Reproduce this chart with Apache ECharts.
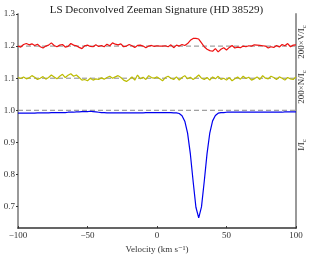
<!DOCTYPE html>
<html><head><meta charset="utf-8">
<script src="https://cdn.jsdelivr.net/npm/echarts@6/dist/echarts.min.js"></script>
<style>html,body{margin:0;padding:0;background:#fff}#c{width:313px;height:259px}</style>
</head><body><div id="c"></div>
<script>
// Velocity grid (km/s)
const velocity = [-100,-98,-96,-94,-92,-90,-88,-86,-84,-82,-80,-78,-76,-74,-72,-70,-68,-66,-64,-62,-60,-58,-56,-54,-52,-50,-48,-46,-44,-42,-40,-38,-36,-34,-32,-30,-28,-26,-24,-22,-20,-18,-16,-14,-12,-10,-8,-6,-4,-2,0,2,4,6,8,10,12,14,16,18,20,22,24,26,28,30,32,34,36,38,40,42,44,46,48,50,52,54,56,58,60,62,64,66,68,70,72,74,76,78,80,82,84,86,88,90,92,94,96,98,100];
// 200*V/Ic (offset to 1.2)
const stokesV = [1.200,1.197,1.205,1.208,1.204,1.207,1.202,1.206,1.198,1.194,1.200,1.203,1.210,1.202,1.198,1.203,1.205,1.197,1.199,1.208,1.203,1.201,1.196,1.192,1.201,1.203,1.199,1.198,1.204,1.199,1.202,1.198,1.206,1.201,1.210,1.206,1.204,1.207,1.198,1.200,1.205,1.201,1.196,1.202,1.203,1.200,1.195,1.200,1.202,1.199,1.201,1.200,1.200,1.201,1.198,1.204,1.195,1.203,1.200,1.205,1.202,1.208,1.218,1.224,1.224,1.222,1.210,1.198,1.190,1.186,1.184,1.192,1.182,1.190,1.195,1.188,1.196,1.202,1.194,1.197,1.195,1.200,1.198,1.201,1.200,1.204,1.203,1.202,1.201,1.200,1.194,1.198,1.196,1.202,1.197,1.205,1.201,1.208,1.198,1.203,1.204];
// 200*N/Ic (offset to 1.1)
const nullN = [1.102,1.099,1.104,1.098,1.101,1.108,1.103,1.096,1.100,1.105,1.097,1.102,1.110,1.104,1.098,1.106,1.112,1.102,1.109,1.114,1.106,1.110,1.102,1.094,1.096,1.092,1.100,1.094,1.098,1.096,1.101,1.097,1.102,1.106,1.100,1.104,1.108,1.102,1.094,1.090,1.096,1.104,1.094,1.110,1.098,1.103,1.096,1.108,1.102,1.100,1.104,1.098,1.092,1.102,1.106,1.100,1.096,1.104,1.094,1.102,1.108,1.098,1.103,1.096,1.102,1.110,1.100,1.096,1.102,1.094,1.104,1.098,1.106,1.096,1.100,1.094,1.102,1.092,1.098,1.104,1.097,1.106,1.099,1.103,1.094,1.098,1.104,1.096,1.108,1.100,1.098,1.106,1.102,1.096,1.104,1.100,1.094,1.102,1.098,1.096,1.104];
// I/Ic
const stokesI = [0.991,0.991,0.991,0.991,0.991,0.991,0.991,0.992,0.992,0.992,0.992,0.992,0.993,0.993,0.993,0.993,0.993,0.993,0.994,0.994,0.994,0.995,0.995,0.996,0.996,0.996,0.997,0.996,0.995,0.994,0.993,0.993,0.992,0.992,0.992,0.992,0.992,0.992,0.992,0.992,0.992,0.992,0.992,0.992,0.992,0.992,0.993,0.993,0.993,0.993,0.993,0.993,0.993,0.993,0.993,0.993,0.992,0.992,0.990,0.983,0.966,0.929,0.864,0.778,0.698,0.665,0.699,0.779,0.865,0.930,0.967,0.984,0.991,0.993,0.993,0.994,0.994,0.994,0.994,0.994,0.994,0.994,0.994,0.994,0.994,0.994,0.994,0.994,0.994,0.994,0.994,0.994,0.994,0.994,0.994,0.994,0.995,0.995,0.995,0.995,0.995];
const refLevels = [1.2, 1.1, 1.0];
const yTicks = [0.7,0.8,0.9,1.0,1.1,1.2,1.3];
const xTicks = [-100,-50,0,50,100];

const serif = '"Liberation Serif", "DejaVu Serif", serif';
const pair = arr => velocity.map((v,i)=>[v,arr[i]]);
const series = [];
refLevels.forEach(l => series.push({type:'line',data:[[-100,l],[100,l]],symbol:'none',silent:true,
  lineStyle:{color:'#888',width:1,type:[5,3]}}));
series.push({type:'line',data:pair(stokesV),symbol:'none',lineStyle:{color:'#ee1111',width:1.2}});
series.push({type:'line',data:pair(nullN),symbol:'none',lineStyle:{color:'#bcbc00',width:1.2}});
series.push({type:'line',data:pair(stokesI),symbol:'none',lineStyle:{color:'#0000ee',width:1.2}});

const chart = echarts.init(document.getElementById('c'), null, {renderer:'canvas'});
chart.setOption({
  animation:false,
  backgroundColor:'#fff',
  title:{text:'LS Deconvolved Zeeman Signature (HD 38529)',left:'center',top:0,
    textStyle:{fontFamily:serif,fontSize:11,fontWeight:'normal',color:'#222'}},
  grid:{left:18,right:17,top:14,bottom:28},
  xAxis:{type:'value',min:-100,max:100,interval:50,
    name:'Velocity (km s\u207B\u00B9)',nameLocation:'middle',nameGap:14,
    nameTextStyle:{fontFamily:serif,fontSize:9,color:'#333'},
    axisLine:{onZero:false,lineStyle:{color:'#333',width:1.5}},
    axisTick:{show:true,inside:true,length:2,lineStyle:{color:'#333'}},
    axisLabel:{fontFamily:serif,fontSize:9,color:'#333',margin:3,
      formatter:v=>String(v).replace('-','\u2212')},
    splitLine:{show:false}},
  yAxis:[{type:'value',min:0.633,max:1.3,
    axisLine:{show:true,onZero:false,lineStyle:{color:'#999',width:2}},
    axisTick:{show:true,length:2,customValues:yTicks,lineStyle:{color:'#333'}},
    axisLabel:{fontFamily:serif,fontSize:9,color:'#333',margin:3,customValues:yTicks,
      formatter:v=>v.toFixed(1)},
    splitLine:{show:false}},
   {type:'value',min:0.633,max:1.3,position:'right',
    axisLine:{show:true,onZero:false,lineStyle:{color:'#999',width:2}},
    axisTick:{show:false},axisLabel:{show:false},splitLine:{show:false}}],
  graphic:[
    {type:'text',x:302,y:42,rotation:Math.PI/2,style:{text:'200\u00D7V/I{s|c}',fontFamily:serif,fontSize:9,fill:'#333',align:'center',verticalAlign:'middle',
      rich:{s:{fontSize:7,fontFamily:serif,padding:[4,0,0,0]}}}},
    {type:'text',x:302,y:87,rotation:Math.PI/2,style:{text:'200\u00D7N/I{s|c}',fontFamily:serif,fontSize:9,fill:'#333',align:'center',verticalAlign:'middle',
      rich:{s:{fontSize:7,fontFamily:serif,padding:[4,0,0,0]}}}},
    {type:'text',x:302,y:145,rotation:Math.PI/2,style:{text:'I/I{s|c}',fontFamily:serif,fontSize:9,fill:'#333',align:'center',verticalAlign:'middle',
      rich:{s:{fontSize:7,fontFamily:serif,padding:[4,0,0,0]}}}}
  ],
  series:series
});
</script></body></html>
